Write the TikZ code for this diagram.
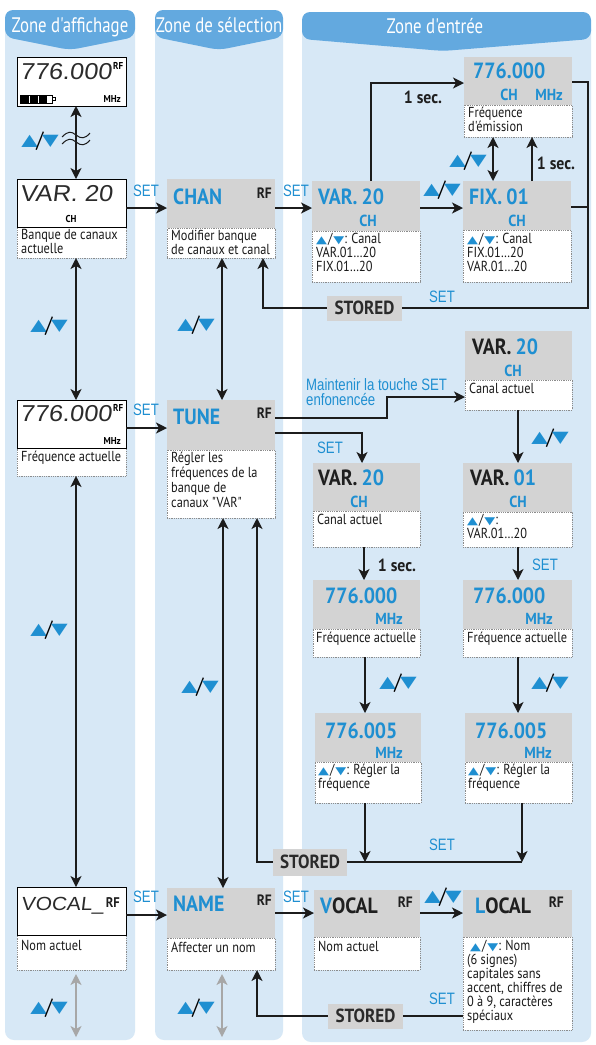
\documentclass[tikz,border=0pt]{standalone}
\usepackage{fontspec}
\setmainfont{PT Sans}[FakeStretch=0.9]
\newfontfamily\bodyfont{PT Sans}[FakeStretch=0.85]
\newfontfamily\headfont{PT Sans}[FakeStretch=0.8]
\newfontfamily\setfont{Liberation Sans}[FakeStretch=0.8]
\newfontfamily\symfont{DejaVu Sans}[FakeStretch=1.35]
\newfontfamily\lcdfont{Liberation Sans}[FakeSlant=0.12,FakeStretch=1.1]
\usetikzlibrary{arrows.meta}
\definecolor{txtblue}{HTML}{1F8FD1}
\definecolor{colbg}{HTML}{D7E8F6}
\definecolor{colhead}{HTML}{63A9DF}
\definecolor{boxgray}{HTML}{D3D3D3}
\definecolor{dotc}{HTML}{8C8C8C}
\definecolor{linec}{HTML}{1C1C1C}
\definecolor{arrgray}{HTML}{A7A7A7}
\definecolor{storedtxt}{HTML}{2A2A2A}
\definecolor{lcdc}{HTML}{2B2B2B}
\newcommand\UD{{\symfont\fontsize{16}{16}\selectfont\color{txtblue}▲}\kern-1.5pt{\fontsize{22}{22}\selectfont\raisebox{-1.5pt}{/}}\kern-1.5pt{\symfont\fontsize{16}{16}\selectfont\color{txtblue}▼}}
\newcommand\ud{{\symfont\fontsize{10.5}{10.5}\selectfont\color{txtblue}▲}\kern1pt/\kern1pt{\symfont\fontsize{10.5}{10.5}\selectfont\color{txtblue}▼}}
\newcommand\mkbox[6]{%
  \node[gbox, minimum width=#4pt, minimum height=#5pt] (#1) at (#2,#3) {};
  \node[wbox, minimum width=#4pt, minimum height=#6pt] (#1w) at (#2,#3+#5) {};
}
\newcommand\mklcd[5]{%
  \node[wbox, minimum width=109pt, minimum height=#5pt] (#1w) at (#2,#3+#4) {};
  \node[lcdbox, minimum width=109pt, minimum height=#4pt] (#1) at (#2,#3) {};
}
\tikzset{
 colbody/.style={fill=colbg, rounded corners=9pt},
 colhd/.style={fill=colhead, rounded corners=8pt},
 headtxt/.style={font=\headfont\fontsize{21}{21}\selectfont, text=white, inner sep=0, anchor=base},
 gbox/.style={fill=boxgray, inner sep=0, outer sep=0, anchor=north west},
 wbox/.style={fill=white, draw=dotc, line width=0.7pt, dash pattern=on 0.7pt off 1.1pt, inner sep=0, outer sep=0, anchor=north west},
 lcdbox/.style={fill=white, draw=black, line width=1pt, inner sep=0, outer sep=0, anchor=north west},
 btxt/.style={font=\bodyfont\fontsize{14.5}{14}\selectfont, align=left, anchor=north west, inner sep=0, text=black!90},
 big/.style={font=\bfseries\fontsize{22}{22}\selectfont, text=txtblue, anchor=base west, inner sep=0},
 bigk/.style={big, text=black!88},
 unit/.style={font=\bfseries\fontsize{16}{16}\selectfont, text=txtblue, anchor=base, inner sep=0},
 rf/.style={font=\bfseries\fontsize{15}{15}\selectfont, text=black!88, anchor=base east, inner sep=0},
 setl/.style={font=\setfont\fontsize{16.5}{16.5}\selectfont, text=txtblue, inner sep=0},
 secl/.style={font=\bfseries\fontsize{17.5}{17.5}\selectfont, text=black!88, inner sep=0},
 udl/.style={inner sep=0},
 stored/.style={fill=boxgray, font=\bfseries\fontsize{19}{19}\selectfont, text=storedtxt, inner sep=0, minimum width=75pt, minimum height=25pt},
 ln/.style={draw=linec, line width=1.4pt},
 arr/.style={ln, -{Stealth[length=11pt,width=11pt,inset=3pt]}},
 darr/.style={ln, {Stealth[length=11pt,width=11pt,inset=3pt]}-{Stealth[length=11pt,width=11pt,inset=3pt]}},
 gdarr/.style={darr, draw=arrgray},
 lcdt/.style={font=\lcdfont\fontsize{23}{23}\selectfont, text=lcdc, anchor=base west, inner sep=0},
 lcds/.style={font=\bfseries\fontsize{10}{10}\selectfont, inner sep=0},
}
\begin{document}
\begin{tikzpicture}[x=1pt,y=-1pt]
\useasboundingbox (0,0) rectangle (595,1045);
\fill[white] (0,0) rectangle (595,1045);
% columns
\fill[colbody] (5,20) -- (5,1040) -- (135,1040) -- (135,20) -- cycle;
\fill[colbody] (155,20) -- (155,1040) -- (283,1040) -- (283,20) -- cycle;
\fill[colbody] (302,20) -- (302,1042) -- (591,1042) -- (591,20) -- cycle;
\fill[colhd] (5,37) -- (5,10) -- (135,10) -- (135,37) -- (70,50) -- cycle;
\fill[colhd] (155,37) -- (155,10) -- (283,10) -- (283,37) -- (219,50) -- cycle;
\fill[colhd] (302,39) -- (302,12) -- (591,12) -- (591,39) -- (443,51) -- cycle;
\node[headtxt] (h1) at (70,32) {Zone d'affichage};
\node[headtxt] (h2) at (219,32) {Zone de sélection};
\node[headtxt] (h3) at (435,33) {Zone d'entrée};

% ---- column 1
\node[lcdbox, minimum width=109pt, minimum height=49pt] (lcd1) at (17,57) {};
\node[lcdt] (lcd1t) at (20,79) {776.000};
\node[lcds, anchor=north west] (lcd1rf) at (113,62) {RF};
\node[lcds, anchor=base east] (lcd1u) at (121,102) {MHz};
\fill (20,95) rectangle (47,103);
\draw[line width=0.8pt] (20,95) rectangle (52,103);
\draw[white, line width=0.6pt] (29,95.5) -- (29,102.5) (38,95.5) -- (38,102.5);
\draw[line width=0.7pt] (52,97.5) rectangle (55,100.5);

\mklcd{lcd2}{17}{179}{48}{31}
\node[lcdt] (lcd2t) at (20,201) {VAR.\ 20};
\node[lcds, anchor=base] (lcd2u) at (71,222) {CH};
\node[btxt] (lcd2wt) at (21,229) {Banque de canaux\\actuelle};

\mklcd{lcd3}{17}{400}{48}{28}
\node[lcdt] (lcd3t) at (20,421) {776.000};
\node[lcds, anchor=north west] (lcd3rf) at (113,404) {RF};
\node[lcds, anchor=base east] (lcd3u) at (121,444) {MHz};
\node[btxt] (lcd3wt) at (21,451) {Fréquence actuelle};

\mklcd{lcd4}{17}{887}{48}{35}
\node[lcdt, font=\lcdfont\fontsize{19}{19}\selectfont] (lcd4t) at (21,910) {VOCAL\_};
\node[rf, font=\bfseries\fontsize{14}{14}\selectfont] (lcd4rf) at (120,907) {RF};
\node[btxt] (lcd4wt) at (21,940) {Nom actuel};

% ---- column 2
\mkbox{chan}{167}{179}{108}{49}{30}
\node[big] (chant) at (173,204) {CHAN};
\node[rf] (chanrf) at (272,198) {RF};
\node[btxt] (chanwt) at (171,230) {Modifier banque\\de canaux et canal};

\mkbox{tune}{167}{400}{108}{50}{68}
\node[big] (tunet) at (173,424) {TUNE};
\node[rf] (tunerf) at (272,418) {RF};
\node[btxt, font=\bodyfont\fontsize{14.5}{14.8}\selectfont] (tunewt) at (171,452) {Régler les\\fréquences de la\\banque de\\canaux "VAR"};

\mkbox{name}{167}{888}{108}{50}{32}
\node[big] (namet) at (173,911) {NAME};
\node[rf] (namerf) at (272,905) {RF};
\node[btxt] (namewt) at (171,942) {Affecter un nom};

% ---- column 3
\mkbox{freqE}{464}{57}{108}{48}{32}
\node[big] (freqEt) at (473,78) {776.000};
\node[unit] (freqEch) at (509,100) {CH};
\node[unit] (freqEmhz) at (549,100) {MHz};
\node[btxt] (freqEwt) at (468,107) {Fréquence\\d'émission};

\mkbox{var1}{312}{181}{108}{50}{51}
\node[big] (var1t) at (318,204) {VAR.\hspace{4pt}20};
\node[unit] (var1ch) at (368,226) {CH};
\node[btxt] (var1wt) at (316,233) {\ud: Canal\\VAR.01…20\\FIX.01…20};

\mkbox{fix1}{463}{181}{108}{49}{52}
\node[big] (fix1t) at (469,204) {FIX.\hspace{4pt}01};
\node[unit] (fix1ch) at (517,226) {CH};
\node[btxt] (fix1wt) at (467,233) {\ud: Canal\\FIX.01…20\\VAR.01…20};

\mkbox{var2}{465}{331}{107}{49}{30}
\node[bigk] (var2t) at (472,354) {VAR.\hspace{4pt}\textcolor{txtblue}{20}};
\node[unit] (var2ch) at (513,376) {CH};
\node[btxt] (var2wt) at (469,383) {Canal actuel};

\mkbox{var3}{313}{463}{107}{48}{36}
\node[bigk] (var3t) at (318,485) {VAR.\hspace{4pt}\textcolor{txtblue}{20}};
\node[unit] (var3ch) at (359,507) {CH};
\node[btxt] (var3wt) at (317,514) {Canal actuel};

\mkbox{var4}{463}{463}{109}{49}{35}
\node[bigk] (var4t) at (470,485) {VAR.\hspace{4pt}\textcolor{txtblue}{01}};
\node[unit] (var4ch) at (518,507) {CH};
\node[btxt] (var4wt) at (467,514) {\ud:\\VAR.01…20};

\mkbox{f1}{313}{580}{107}{49}{28}
\node[big] (f1t) at (325,603) {776.000};
\node[unit] (f1u) at (389,624) {MHz};
\node[btxt] (f1wt) at (316,632) {Fréquence actuelle};

\mkbox{f2}{463}{580}{109}{49}{28}
\node[big] (f2t) at (473,603) {776.000};
\node[unit] (f2u) at (539,624) {MHz};
\node[btxt] (f2wt) at (467,632) {Fréquence actuelle};

\mkbox{f3}{315}{713}{106}{49}{41}
\node[big] (f3t) at (325,738) {776.005};
\node[unit] (f3u) at (389,758) {MHz};
\node[btxt] (f3wt) at (318,764) {\ud: Régler la\\fréquence};

\mkbox{f4}{465}{713}{107}{49}{41}
\node[big] (f4t) at (475,738) {776.005};
\node[unit] (f4u) at (538,758) {MHz};
\node[btxt] (f4wt) at (468,764) {\ud: Régler la\\fréquence};

\mkbox{vocal}{314}{890}{106}{47}{33}
\node[bigk] (vocalt) at (320,913) {\textcolor{txtblue}{V}OCAL};
\node[rf] (vocalrf) at (413,907) {RF};
\node[btxt] (vocalwt) at (318,941) {Nom actuel};

\mkbox{local}{463}{890}{109}{47}{93}
\node[bigk] (localt) at (475,913) {\textcolor{txtblue}{L}OCAL};
\node[rf] (localrf) at (564,907) {RF};
\node[btxt] (localwt) at (467,940) {\hspace{3pt}\ud: Nom\\(6 signes)\\capitales sans\\accent, chiffres de\\0 à 9, caractères\\spéciaux};

\node[stored] (st1) at (364.5,308) {STORED};
\node[stored, minimum width=74pt, minimum height=27pt] (st2) at (310,862) {STORED};
\node[stored] (st3) at (365.5,1016) {STORED};

% ---- connectors column 1
\draw[darr] (lcd1.south -| 76,0) -- (lcd2.north -| 76,0);
\draw[line width=1pt, linec] (62,137) .. controls (68,131) and (71,131) .. (76,135) .. controls (81,139) and (85,139) .. (90,133);
\draw[line width=1pt, linec] (62,144) .. controls (68,138) and (71,138) .. (76,142) .. controls (81,146) and (85,146) .. (90,140);
\node[udl] (ud1) at (40,141) {\UD};
\draw[darr] (lcd2w.south -| 76,0) -- (lcd3.north -| 76,0);
\node[udl] (ud2) at (49,326) {\UD};
\draw[darr] (lcd3w.south -| 76,0) -- (lcd4.north -| 76,0);
\node[udl] (ud3) at (49,630) {\UD};
\coordinate (b1) at (76,1037);
\draw[gdarr, shorten <=4pt] (lcd4w.south -| 76,0) -- (b1);
\node[udl] (ud4) at (49,1008) {\UD};

% ---- row 1
\draw[arr] (lcd2.east |- 0,208) -- (chan.west |- 0,208);
\node[setl] (s1) at (146,191) {SET};
\draw[arr] (chan.east |- 0,208) -- (var1.west |- 0,208);
\node[setl] (s2) at (296,191) {SET};
\draw[darr] (chanw.south -| 222,0) -- (tune.north -| 222,0);
\node[udl] (ud5) at (196,325) {\UD};
\draw[arr] (var1.north -| 371,0) |- (freqE.west |- 0,83);
\node[secl] (sec1) at (423,97) {1 sec.};
\draw[arr] (var1.east |- 0,208) -- (fix1.west |- 0,208);
\node[udl] (ud6) at (442,190) {\UD};
\draw[darr] (freqEw.south -| 493,0) -- (fix1.north -| 493,0);
\node[udl] (ud7) at (468,161) {\UD};
\draw[arr] (fix1.north -| 532,0) -- (freqEw.south -| 532,0);
\node[secl] (sec2) at (556,163) {1 sec.};
\draw[ln] (freqE.east |- 0,82) -| (588,308) -- (st1.east);
\draw[ln] (fix1.east |- 0,207) -- (588,207);
\draw[arr] (st1.west) -| (chanw.south -| 263,0);
\node[setl] (s3) at (442,297) {SET};

% ---- row 2
\draw[arr] (lcd3.east |- 0,428) -- (tune.west |- 0,428);
\node[setl] (s4) at (146,410) {SET};
\draw[arr] (tune.east |- 0,418) -- (387,418) |- (var2.west |- 0,397);
\node[setl, align=left, anchor=north west, font=\setfont\fontsize{16.5}{15}\selectfont] (hold) at (306,378) {Maintenir la touche SET\\enfonencée};
\draw[arr] (tune.east |- 0,433) -| (var3.north -| 362,0);
\node[setl] (s5) at (330,448) {SET};
\draw[arr] (var2w.south -| 518,0) -- (var4.north -| 518,0);
\node[udl] (ud8) at (550,438) {\UD};
\draw[arr] (var3w.south -| 364,0) -- (f1.north -| 364,0);
\node[secl] (sec3) at (397,565) {1 sec.};
\draw[arr] (var4w.south -| 518,0) -- (f2.north -| 518,0);
\node[setl] (s6) at (545,565) {SET};
\draw[arr] (f1w.south -| 365,0) -- (f3.north -| 365,0);
\node[udl] (ud9) at (398,683) {\UD};
\draw[arr] (f2w.south -| 518,0) -- (f4.north -| 518,0);
\node[udl] (ud10) at (550,683) {\UD};
\coordinate (j1) at (365,862);
\coordinate (j2) at (522,862);
\draw[ln] (st2.east) -- (j2);
\draw[arr] (f3w.south -| j1) -- (j1);
\draw[arr] (f4w.south -| j2) -- (j2);
\node[setl] (s7) at (442,845) {SET};
\draw[arr] (st2.west) -| (tunew.south -| 257,0);
\draw[darr] (tunew.south -| 223,0) -- (name.north -| 223,0);
\node[udl] (ud11) at (200,687) {\UD};

% ---- row 3
\draw[arr] (lcd4.east |- 0,915) -- (name.west |- 0,915);
\node[setl] (s8) at (146,897) {SET};
\draw[arr] (name.east |- 0,913) -- (vocal.west |- 0,913);
\node[setl] (s9) at (296,897) {SET};
\draw[arr] (vocal.east |- 0,913) -- (local.west |- 0,913);
\node[udl] (ud12) at (443,897) {\UD};
\draw[ln] (localw.west |- 0,1016) -- (st3.east);
\draw[arr] (st3.west) -| (namew.south -| 257,0);
\node[setl] (s10) at (442,999) {SET};
\coordinate (b2) at (222,1037);
\draw[gdarr, shorten <=4pt] (namew.south -| 222,0) -- (b2);
\node[udl] (ud13) at (196,1008) {\UD};
\end{tikzpicture}
\end{document}
